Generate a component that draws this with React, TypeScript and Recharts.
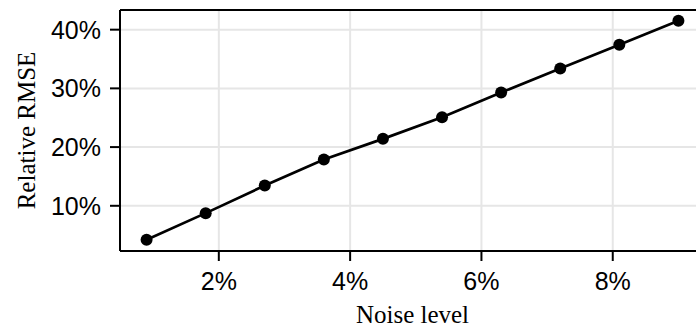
import { LineChart, Line, XAxis, YAxis, CartesianGrid, ReferenceLine } from "recharts";

// noise level (%) and the relative RMSE (%)
const noiseLevels = [0.9, 1.8, 2.7, 3.6, 4.5, 5.4, 6.3, 7.2, 8.1, 9.0];
const relativeRmse = [4.2, 8.75, 13.45, 17.9, 21.4, 25.1, 29.3, 33.4, 37.45, 41.5];

const xTicks = [2, 4, 6, 8];
const yTicks = [10, 20, 30, 40];

const X_DOMAIN: [number, number] = [0.495, 9.405];
const Y_DOMAIN: [number, number] = [2.3, 43.35];

const tickFont = { fontFamily: "'Liberation Sans', Arial, sans-serif", fontSize: 25, fill: "#000" };
const labelFont = "'Liberation Serif', 'Times New Roman', serif";

const data = noiseLevels.map((n, i) => ({ noise: n, rmse: relativeRmse[i] }));

// plot area spans y 10..251, so its middle sits at 130.5
function XLabel(props: any) {
    const vb = props.viewBox || { x: 120, y: 251, width: 585, height: 77 };
    return (
        <text x={vb.x + vb.width / 2} y={322.5} textAnchor="middle"
            fontFamily={labelFont} fontSize={25} fill="#000">
            Noise level
        </text>
    );
}

function YLabel() {
    const cx = 35;
    const cy = 130.5;
    return (
        <text x={cx} y={cy} transform={`rotate(-90, ${cx}, ${cy})`} textAnchor="middle"
            fontFamily={labelFont} fontSize={25} fill="#000">
            Relative RMSE
        </text>
    );
}

export default function App() {
    return (
        <div style={{ position: "fixed", left: 0, top: 0, width: 696, height: 328, overflow: "hidden", background: "#fff" }}>
            <LineChart width={720} height={328} data={data} margin={{ top: 10, right: 15, bottom: 0, left: 0 }}>
                <CartesianGrid stroke="#e6e6e6" strokeWidth={2} />
                <XAxis
                    dataKey="noise"
                    type="number"
                    domain={X_DOMAIN}
                    allowDataOverflow
                    ticks={xTicks}
                    tickFormatter={(v) => `${v}%`}
                    height={77}
                    tickSize={10}
                    tickMargin={11}
                    tick={tickFont}
                    axisLine={{ stroke: "#000", strokeWidth: 2 }}
                    tickLine={{ stroke: "#000", strokeWidth: 2 }}
                    label={<XLabel />}
                />
                <YAxis
                    type="number"
                    domain={Y_DOMAIN}
                    allowDataOverflow
                    ticks={yTicks}
                    tickFormatter={(v) => `${v}%`}
                    width={120}
                    tickSize={10}
                    tickMargin={9}
                    tick={tickFont}
                    axisLine={{ stroke: "#000", strokeWidth: 2 }}
                    tickLine={{ stroke: "#000", strokeWidth: 2 }}
                    label={<YLabel />}
                />
                <ReferenceLine y={Y_DOMAIN[1]} stroke="#000" strokeWidth={2} />
                <ReferenceLine x={X_DOMAIN[1]} stroke="#000" strokeWidth={2} />
                <Line
                    type="linear"
                    dataKey="rmse"
                    stroke="#000"
                    strokeWidth={2.7}
                    dot={{ r: 6, fill: "#000", stroke: "#000", strokeWidth: 0 }}
                    isAnimationActive={false}
                />
            </LineChart>
        </div>
    );
}
